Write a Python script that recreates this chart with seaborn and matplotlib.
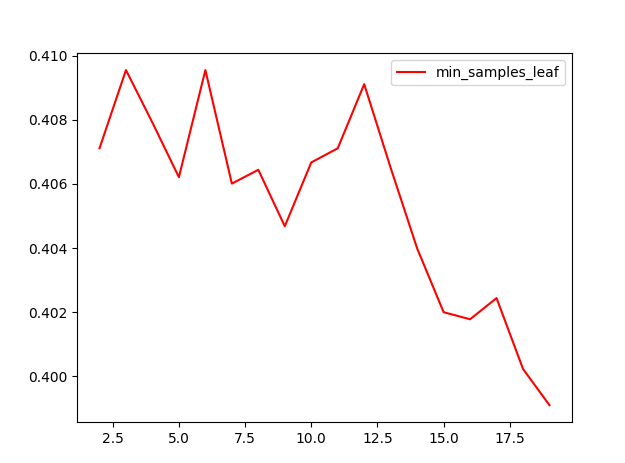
import matplotlib
matplotlib.use("Agg")
import matplotlib.pyplot as plt
import seaborn as sns
import pandas as pd

# min_samples_leaf values and the scores
leaf = [2, 3, 4, 5, 6, 7, 8, 9, 10, 11, 12, 13, 14, 15, 16, 17, 18, 19]
score = [0.40711, 0.40955, 0.40791, 0.40621, 0.40955, 0.40601, 0.40644, 0.40468,
         0.40667, 0.40711, 0.40911, 0.40650, 0.40399, 0.40200, 0.40178, 0.40244,
         0.40023, 0.39910]

df = pd.DataFrame({'min_samples_leaf': leaf, 'score': score})

fig = plt.figure(figsize=(6.25, 4.63), dpi=100)
ax = fig.add_axes([0.1232, 0.0886, 0.792, 0.7963])
sns.lineplot(x='min_samples_leaf', y='score', data=df, color='red',
             label='min_samples_leaf', ax=ax)
ax.set_xlabel('')
ax.set_ylabel('')
ax.legend(loc='upper right')

fig.savefig('out.png', dpi=100)
